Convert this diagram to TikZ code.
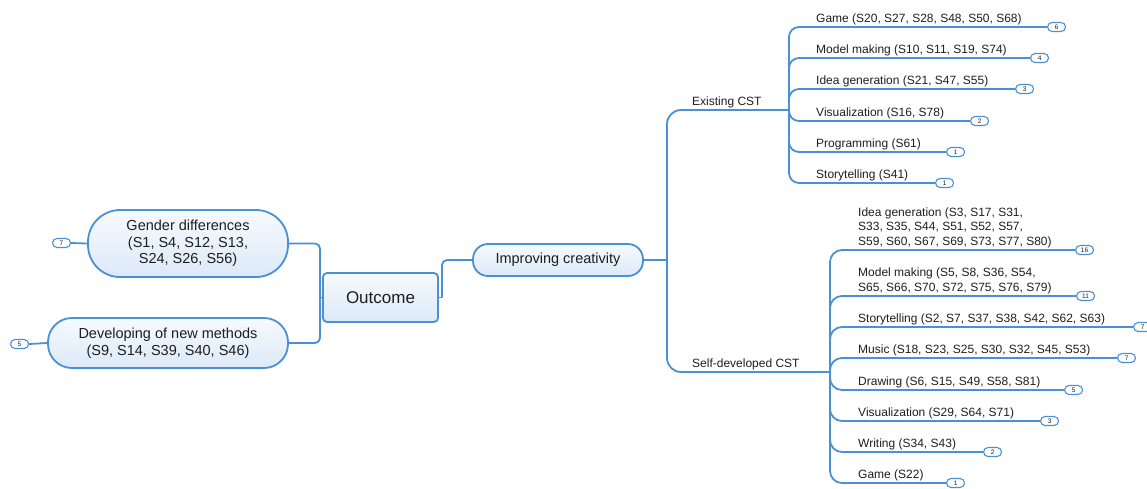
\documentclass[tikz,border=0pt]{standalone}
\usepackage{fontspec}
\setmainfont{Liberation Sans}
\usetikzlibrary{calc}
\definecolor{lineblue}{RGB}{74,144,212}
\definecolor{filltop}{RGB}{246,250,254}
\definecolor{fillbot}{RGB}{220,233,248}
\definecolor{txt}{RGB}{30,30,30}
\tikzset{
 conn/.style={draw=lineblue, line width=1.8pt},
 topic/.style={draw=lineblue, line width=1.8pt, top color=filltop, bottom color=fillbot, text=txt, align=center, inner sep=0pt},
 badge/.style={draw=lineblue, line width=1.1pt, fill=white, rounded corners=4.5pt, minimum width=18pt, minimum height=9pt, inner sep=0pt, font=\fontsize{6.5}{6.5}\selectfont, text=txt, anchor=west},
 leaf/.style={anchor=south west, inner sep=1pt, align=left, text=txt, font=\fontsize{12}{14.5}\selectfont},
}
\begin{document}
\begin{tikzpicture}[x=1pt,y=-1pt]
\clip (0,0) rectangle (1147,488);
% main topics
\node[topic, rounded corners=4pt, minimum width=115pt, minimum height=49pt, font=\fontsize{17}{20}\selectfont] (outcome) at (380.5,297.5) {Outcome};
\node[topic, rounded corners=32pt, minimum width=200pt, minimum height=67pt, font=\fontsize{14.5}{16.5}\selectfont] (gender) at (188,243.5) {Gender differences\\(S1, S4, S12, S13,\\S24, S26, S56)};
\node[topic, rounded corners=24pt, minimum width=240pt, minimum height=50pt, font=\fontsize{14.5}{17.5}\selectfont] (develop) at (168,343) {Developing of new methods\\(S9, S14, S39, S40, S46)};
\node[topic, rounded corners=15pt, minimum width=170pt, minimum height=32pt, font=\fontsize{14.5}{17}\selectfont] (improve) at (558,260) {Improving creativity};
% left badges
\node[badge] (bg) at (52,243) {7};
\node[badge] (bd) at (10,344) {5};
\draw[conn] (bg.east) -- (gender.west);
\draw[conn] (bd.east) -- (develop.west);
% left connectors
\coordinate (jl) at (320,297.5);
\draw[conn, rounded corners=5pt] (gender.east) -| (jl);
\draw[conn, rounded corners=5pt] (develop.east) -| (jl);
\draw[conn] (jl) -- (outcome.west);
\coordinate (jr) at (442,297.5);
\draw[conn] (outcome.east) -- (jr);
\draw[conn, rounded corners=5pt] (jr) |- (improve.west);
% spine
\coordinate (sp) at (667,260);
\coordinate (exb) at (789,110);
\coordinate (sdb) at (830,372);
\draw[conn] (improve.east) -- (sp);
\draw[conn, rounded corners=14pt] (sp) |- (exb);
\draw[conn, rounded corners=14pt] (sp) |- (sdb);
\node[leaf, anchor=south west] (exl) at (691,109) {Existing CST};
\node[leaf, anchor=south west] (sdl) at (691,371) {Self-developed CST};
% existing CST children
\node[badge] (e1) at (1047,27) {6};
\node[badge] (e2) at (1030,58) {4};
\node[badge] (e3) at (1015,89) {3};
\node[badge] (e4) at (970,121) {2};
\node[badge] (e5) at (946,152) {1};
\node[badge] (e6) at (935,183) {1};
\foreach \b in {e1,e2,e3,e4,e5,e6}{\draw[conn, rounded corners=10pt] (exb) |- (\b.west);}
\node[leaf] (t1) at (815,26) {Game (S20, S27, S28, S48, S50, S68)};
\node[leaf] (t2) at (815,57) {Model making (S10, S11, S19, S74)};
\node[leaf] (t3) at (815,88) {Idea generation (S21, S47, S55)};
\node[leaf] (t4) at (815,120) {Visualization (S16, S78)};
\node[leaf] (t5) at (815,151) {Programming (S61)};
\node[leaf] (t6) at (815,182) {Storytelling (S41)};
% self-developed children
\node[badge] (s1) at (1075,250) {16};
\node[badge] (s2) at (1076,296) {11};
\node[badge] (s3) at (1133,327) {7};
\node[badge] (s4) at (1117,358) {7};
\node[badge] (s5) at (1064,390) {5};
\node[badge] (s6) at (1040,421) {3};
\node[badge] (s7) at (983,452) {2};
\node[badge] (s8) at (946,483) {1};
\foreach \b in {s1,s2,s3,s4,s5,s6,s7,s8}{\draw[conn, rounded corners=12pt] (sdb) |- (\b.west);}
\node[leaf] (u1) at (857,249) {Idea generation (S3, S17, S31,\\S33, S35, S44, S51, S52, S57,\\S59, S60, S67, S69, S73, S77, S80)};
\node[leaf] (u2) at (857,295) {Model making (S5, S8, S36, S54,\\S65, S66, S70, S72, S75, S76, S79)};
\node[leaf] (u3) at (857,326) {Storytelling (S2, S7, S37, S38, S42, S62, S63)};
\node[leaf] (u4) at (857,357) {Music (S18, S23, S25, S30, S32, S45, S53)};
\node[leaf] (u5) at (857,389) {Drawing (S6, S15, S49, S58, S81)};
\node[leaf] (u6) at (857,420) {Visualization (S29, S64, S71)};
\node[leaf] (u7) at (857,451) {Writing (S34, S43)};
\node[leaf] (u8) at (857,482) {Game (S22)};
\end{tikzpicture}
\end{document}
